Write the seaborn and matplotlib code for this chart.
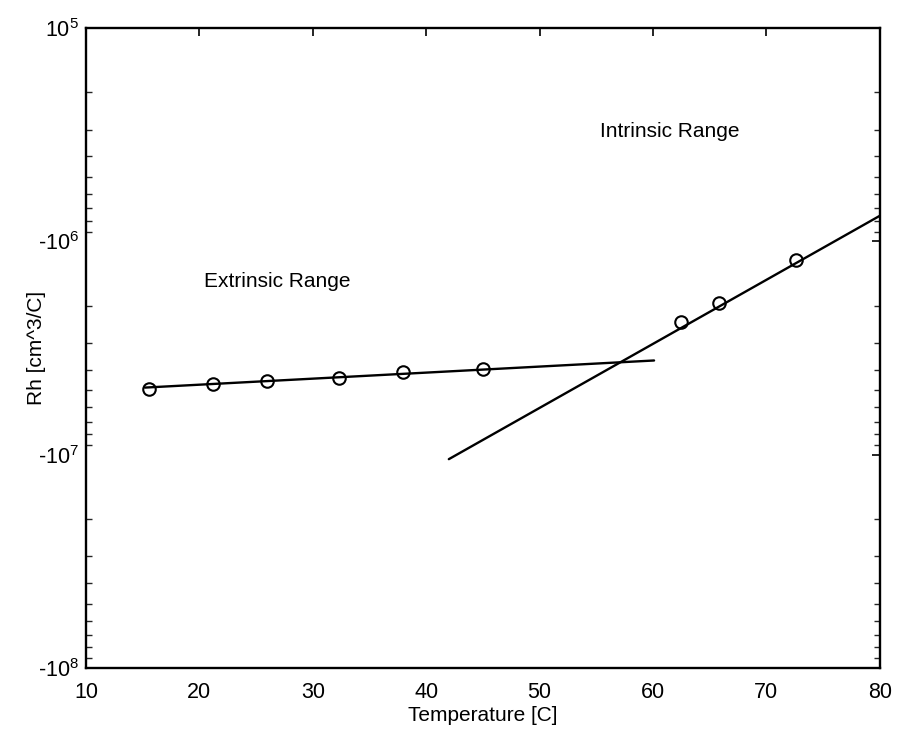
import matplotlib
matplotlib.use("Agg")
import matplotlib.pyplot as plt
import matplotlib.ticker as mticker
import seaborn as sns
import pandas as pd
import numpy as np

# measured data (temperature in C, |Rh| in cm^3/C)
ext_temp = [15.6, 21.2, 26.0, 32.3, 38.0, 45.0]
ext_rh = [4.9e6, 4.69e6, 4.54e6, 4.35e6, 4.12e6, 3.95e6]
int_temp = [62.5, 65.8, 72.6]
int_rh = [2.40e6, 1.95e6, 1.23e6]

# fit lines (end points)
ext_fit_temp = [15.2, 60.1]
ext_fit_rh = [4.85e6, 3.62e6]
int_fit_temp = [42.0, 80.0]
int_fit_rh = [1.05e7, 7.6e5]

xticks = [10, 20, 30, 40, 50, 60, 70, 80]
yticks = [1e5, 1e6, 1e7, 1e8]
ytick_labels = [r"$10^{5}$", r"-$10^{6}$", r"-$10^{7}$", r"-$10^{8}$"]

sns.set_theme(style="white")
plt.rcParams["font.family"] = ["Liberation Sans", "DejaVu Sans"]
plt.rcParams["mathtext.fontset"] = "custom"
plt.rcParams["mathtext.rm"] = "Liberation Sans"
plt.rcParams["mathtext.it"] = "Liberation Sans"
plt.rcParams["axes.unicode_minus"] = False
plt.rcParams["text.color"] = "black"

fig = plt.figure(figsize=(9.02, 7.32), dpi=100)
ax = fig.add_axes([0.0953, 0.0874, 0.880, 0.8745])

df_ef = pd.DataFrame({"T": ext_fit_temp, "R": ext_fit_rh})
df_if = pd.DataFrame({"T": int_fit_temp, "R": int_fit_rh})
df_e = pd.DataFrame({"T": ext_temp, "R": ext_rh})
df_i = pd.DataFrame({"T": int_temp, "R": int_rh})

sns.lineplot(data=df_ef, x="T", y="R", ax=ax, color="black", linewidth=1.7)
sns.lineplot(data=df_if, x="T", y="R", ax=ax, color="black", linewidth=1.7)
for d in (df_e, df_i):
    ax.plot(d["T"], d["R"], linestyle="none", marker="o", markersize=9,
            markerfacecolor="none", markeredgecolor="black", markeredgewidth=1.5)

ax.set_yscale("log")
ax.set_xlim(10, 80)
ax.set_ylim(1e8, 1e5)
ax.set_xticks(xticks)
ax.set_xticklabels([str(t) for t in xticks])
ax.set_yticks(yticks)
ax.set_yticklabels(ytick_labels)
ax.yaxis.set_minor_locator(mticker.LogLocator(base=10, subs=np.arange(2, 10)))
ax.yaxis.set_minor_formatter(mticker.NullFormatter())

ax.tick_params(axis="both", which="major", direction="in", length=6, width=1.2,
               top=True, right=True, labelsize=15.5, colors="black")
ax.tick_params(axis="x", which="major", pad=10)
ax.tick_params(axis="y", which="major", pad=5)
ax.tick_params(axis="y", which="minor", direction="in", length=4, width=1.0,
               left=True, right=True)
for s in ax.spines.values():
    s.set_color("black")
    s.set_linewidth(1.7)

ax.set_xlabel("Temperature [C]", fontsize=15, labelpad=2, color="black")
ax.set_ylabel("Rh [cm^3/C]", fontsize=15, labelpad=-6, color="black")

ax.text(55.3, 3.05e5, "Intrinsic Range", fontsize=15, ha="left", va="center",
        color="black")
ax.text(20.4, 1.54e6, "Extrinsic Range", fontsize=15, ha="left", va="center",
        color="black")

fig.savefig("out.png", dpi=100)
